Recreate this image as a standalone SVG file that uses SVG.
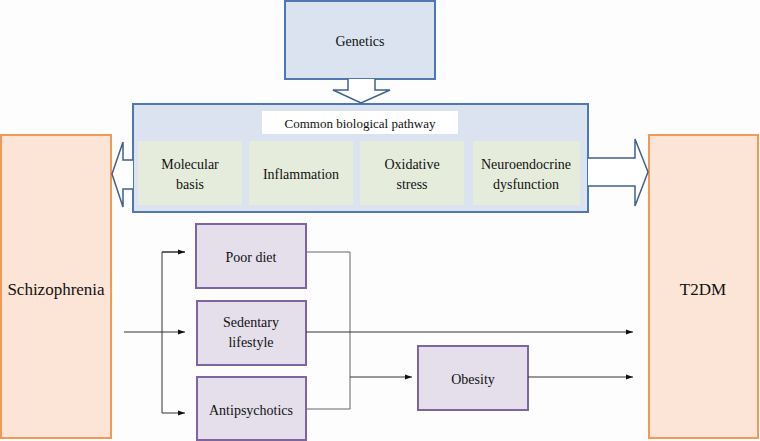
<svg xmlns="http://www.w3.org/2000/svg" width="760" height="441" viewBox="0 0 760 441" font-family="'Liberation Serif', 'DejaVu Serif', serif">
<style>
text{fill:#111;text-anchor:middle}
.blue{fill:#dbe3f0;stroke:#4f78b0;stroke-width:2}
.green{fill:#e6ecdc;stroke:none}
.orange{fill:#fce5d6;stroke:#f29a55;stroke-width:2}
.purple{fill:#e4dfeb;stroke:#8064a2;stroke-width:2}
.hollow{fill:#ffffff;stroke:#3f5f8f;stroke-width:1.5;stroke-linejoin:miter}
.ln{fill:none;stroke:#333;stroke-width:1}
.lg{fill:none;stroke:#666;stroke-width:1}
</style>
<defs>
<marker id="ah" markerWidth="8" markerHeight="6" refX="7" refY="3" orient="auto" markerUnits="userSpaceOnUse">
<path d="M0,0.5 L7,3 L0,5.5 Z" fill="#111"/>
</marker>
</defs>
<rect width="760" height="441" fill="#fdfdfd"/>

<g id="schizophrenia">
<rect class="orange" x="1" y="135" width="110" height="303"/>
<text x="56" y="295" font-size="17" font-family="Liberation Serif, serif">Schizophrenia</text>
</g>
<g id="t2dm">
<rect class="orange" x="649" y="135" width="109" height="303"/>
<text x="703" y="295" font-size="17" font-family="Liberation Serif, serif">T2DM</text>
</g>

<g id="genetics">
<rect class="blue" x="285" y="1" width="150" height="78"/>
<text x="360" y="46" font-size="14" font-family="Liberation Serif, serif">Genetics</text>
</g>

<g id="pathway">
<rect class="blue" x="133" y="104" width="455" height="108"/>
<rect x="262" y="111" width="196" height="23" fill="#ffffff"/>
<text x="360" y="128" font-size="13" font-family="Liberation Serif, serif">Common biological pathway</text>
</g>
<g id="molecular">
<rect class="green" x="138" y="141" width="104" height="64"/>
<text x="190" y="169" font-size="14" font-family="Liberation Serif, serif">Molecular</text>
<text x="190" y="189" font-size="14" font-family="Liberation Serif, serif">basis</text>
</g>
<g id="inflammation">
<rect class="green" x="249" y="141" width="104" height="64"/>
<text x="301" y="179" font-size="14" font-family="Liberation Serif, serif">Inflammation</text>
</g>
<g id="oxidative">
<rect class="green" x="360" y="141" width="104" height="64"/>
<text x="412" y="169" font-size="14" font-family="Liberation Serif, serif">Oxidative</text>
<text x="412" y="189" font-size="14" font-family="Liberation Serif, serif">stress</text>
</g>
<g id="neuroendocrine">
<rect class="green" x="473" y="141" width="107" height="64"/>
<text x="526" y="169" font-size="14" font-family="Liberation Serif, serif">Neuroendocrine</text>
<text x="526" y="189" font-size="14" font-family="Liberation Serif, serif">dysfunction</text>
</g>

<g id="poor-diet">
<rect class="purple" x="196" y="224" width="110" height="64"/>
<text x="251" y="262" font-size="14" font-family="Liberation Serif, serif">Poor diet</text>
</g>
<g id="sedentary">
<rect class="purple" x="197" y="301" width="109" height="64"/>
<text x="251" y="327" font-size="14" font-family="Liberation Serif, serif">Sedentary</text>
<text x="251" y="347" font-size="14" font-family="Liberation Serif, serif">lifestyle</text>
</g>
<g id="antipsychotics">
<rect class="purple" x="197" y="377" width="109" height="63"/>
<text x="251" y="415" font-size="14" font-family="Liberation Serif, serif">Antipsychotics</text>
</g>
<g id="obesity">
<rect class="purple" x="418" y="346" width="110" height="64"/>
<text x="473" y="384" font-size="14" font-family="Liberation Serif, serif">Obesity</text>
</g>

<g id="connectors">
<path class="hollow" d="M348,79 L348,90 L333,90 L361,103 L390,90 L375,90 L375,79"/>
<path class="hollow" d="M133,160 L123,160 L123,142 L112,174 L123,207 L123,189 L133,189"/>
<path class="hollow" d="M588,158 L635,158 L635,139 L648,172 L635,206 L635,186 L588,186"/>
<line class="ln" x1="124" y1="332" x2="185" y2="332" marker-end="url(#ah)"/>
<path class="ln" d="M185,252 L162,252 L162,413 L185,413" marker-end="url(#ah)"/>
<line class="ln" x1="162" y1="252" x2="185" y2="252" marker-end="url(#ah)"/>
<path class="lg" d="M306,252 L350,252 L350,409 L306,409"/>
<line class="ln" x1="350" y1="377" x2="412" y2="377" marker-end="url(#ah)"/>
<line class="ln" x1="306" y1="332" x2="633" y2="332" marker-end="url(#ah)"/>
<line class="ln" x1="528" y1="377" x2="633" y2="377" marker-end="url(#ah)"/>
</g>
</svg>
